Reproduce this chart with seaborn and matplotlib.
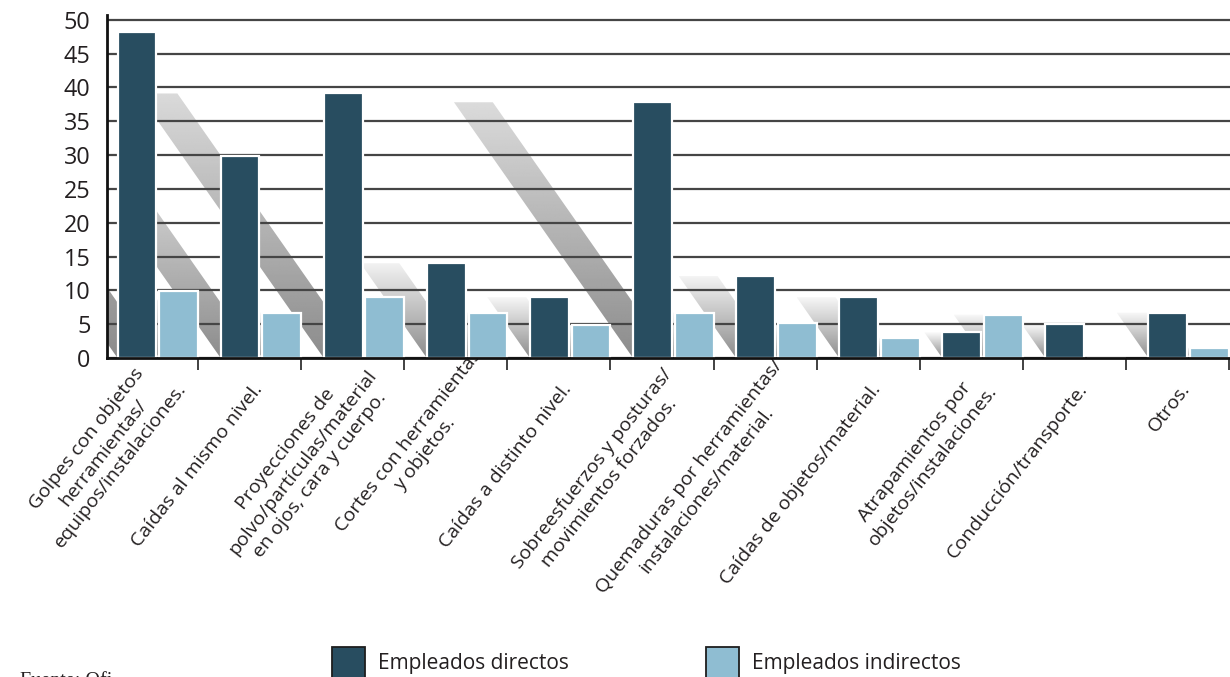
import numpy as np
import pandas as pd
import matplotlib
matplotlib.use("Agg")
import matplotlib.pyplot as plt
import seaborn as sns
from matplotlib.patches import Polygon, Rectangle, PathPatch
from matplotlib.path import Path
from matplotlib.ticker import FixedLocator
from matplotlib.transforms import ScaledTranslation, Bbox

# --- data -------------------------------------------------------------
categorias = [
    "Golpes con objetos\nherramientas/\nequipos/instalaciones.",
    "Caídas al mismo nivel.",
    "Proyecciones de\npolvo/partículas/material\nen ojos, cara y cuerpo.",
    "Cortes con herramientas\ny objetos.",
    "Caídas a distinto nivel.",
    "Sobreesfuerzos y posturas/\nmovimientos forzados.",
    "Quemaduras por herramientas/\ninstalaciones/material.",
    "Caídas de objetos/material.",
    "Atrapamientos por\nobjetos/instalaciones.",
    "Conducción/transporte.",
    "Otros.",
]
directos = [48.2, 29.9, 39.1, 14.0, 9.0, 37.8, 12.1, 9.0, 3.8, 5.0, 6.7]
indirectos = [9.9, 6.7, 9.0, 6.7, 4.9, 6.7, 5.1, 3.0, 6.4, 0.0, 1.5]
series = ["Empleados directos", "Empleados indirectos"]
colores = ["#284d60", "#8fbdd2"]
yticks = [0, 5, 10, 15, 20, 25, 30, 35, 40, 45, 50]
fuente = "Fuente: Ofi"

df = pd.DataFrame({
    "categoria": categorias * 2,
    "valor": directos + indirectos,
    "serie": [series[0]] * len(categorias) + [series[1]] * len(categorias),
})

# --- style ------------------------------------------------------------
sns.set_style("white")
plt.rcParams["font.family"] = ["Open Sans", "DejaVu Sans"]
TXT = "#231f20"
ROT = 52

W, H = 1230, 677
fig = plt.figure(figsize=(W / 100, H / 100), dpi=100)
ax = fig.add_axes([107 / W, (H - 358) / H, (W - 107) / W, (358 - 15) / H])

sns.barplot(
    data=df, x="categoria", y="valor", hue="serie", order=categorias,
    hue_order=series, palette=colores, saturation=1, width=0.81, gap=0.07,
    edgecolor="white", linewidth=1.6, legend=False, zorder=3, ax=ax,
)

XLIM = (-0.493, 10.40)
YLIM = (0, 50.7)
ax.set_xlim(*XLIM)
ax.set_ylim(*YLIM)
ax.set_yticks(yticks)
ax.set_xlabel("")
ax.set_ylabel("")

# grid sits above the cast shadows but behind the bars
ax.set_axisbelow("line")
ax.yaxis.grid(True, color="#454545", linewidth=1.6)
ax.xaxis.grid(False)

for s in ("top", "right"):
    ax.spines[s].set_visible(False)
for s in ("left", "bottom"):
    ax.spines[s].set_color("#111111")
    ax.spines[s].set_linewidth(2.0)
    ax.spines[s].set_zorder(4)

# --- diagonal cast shadows behind each bar ------------------------------
fig.canvas.draw()
px_x = ax.transData.transform((1, 0))[0] - ax.transData.transform((0, 0))[0]
px_y = ax.transData.transform((0, 1))[1] - ax.transData.transform((0, 0))[1]
shear = 0.70 * px_y / px_x  # horizontal data shift per unit of height

bars = sorted(ax.patches, key=lambda p: p.get_x())
first_left = bars[0].get_x()
for k, bar in enumerate(bars):
    h = bar.get_height()
    if h <= 0:
        continue
    x0, w = bar.get_x(), bar.get_width()
    dx = shear * h
    verts = [(x0, 0), (x0 + w, 0), (x0 + w - dx, h), (x0 - dx, h), (x0, 0)]
    path = Path(verts, closed=True)
    if k > 0:
        # later shadows stop at the first bar's left edge
        path = path.clip_to_bbox(Bbox([[first_left, -1], [100, 100]]))
    clip = PathPatch(path, facecolor="none", edgecolor="none",
                     transform=ax.transData)
    ax.add_patch(clip)
    top = 1.0 - 0.15 * min(h, 40) / 40
    grad = np.linspace(0.55, top, 200).reshape(-1, 1)
    im = ax.imshow(grad, cmap="gray", vmin=0, vmax=1, origin="lower",
                   extent=[x0 - dx, x0 + w, 0, h], aspect="auto",
                   interpolation="bilinear", zorder=1)
    im.set_clip_path(clip)

ax.set_xlim(*XLIM)
ax.set_ylim(*YLIM)

# --- ticks --------------------------------------------------------------
ax.tick_params(axis="y", length=0, pad=12, labelsize=16.8, labelcolor=TXT)
ax.xaxis.set_minor_locator(FixedLocator([i + 0.39 for i in range(len(categorias))]))
ax.tick_params(axis="x", which="minor", length=8.5, width=1.3, color="#333333",
               direction="out", bottom=True)
ax.tick_params(axis="x", which="major", length=0, pad=20, labelsize=14,
               labelcolor=TXT)
ax.set_xticks(range(len(categorias)))
ax.set_xticklabels(categorias, rotation=ROT, ha="right", va="center",
                   rotation_mode="anchor", multialignment="center",
                   linespacing=1.25)

# place each wrapped label so the mean end of its lines sits under the bars
fig.canvas.draw()
renderer = fig.canvas.get_renderer()
u = np.array([np.cos(np.radians(ROT)), np.sin(np.radians(ROT))])
for lab in ax.get_xticklabels():
    lines = lab.get_text().split("\n")
    widths = []
    for ln in lines:
        t = fig.text(0, 0, ln, fontproperties=lab.get_fontproperties())
        widths.append(t.get_window_extent(renderer).width)
        t.remove()
    d = (max(widths) - np.mean(widths)) / 2
    off = d * u + np.array([-2.0, 0.0])
    lab.set_transform(lab.get_transform() +
                      ScaledTranslation(off[0] / 100, off[1] / 100, fig.dpi_scale_trans))

# --- legend (squares run past the lower edge) ---------------------------
leg_fs = 15
for c, lab, xs in zip(colores, series, (332, 706)):
    fig.add_artist(Rectangle((xs / W, (H - 692) / H), 33 / W, 45 / H,
                             transform=fig.transFigure, facecolor=c,
                             edgecolor="#1e1e1e", linewidth=1.3))
    fig.text((xs + 46) / W, (H - 669) / H, lab, fontsize=leg_fs, color=TXT,
             ha="left", va="baseline")

fig.text(20 / W, (H - 672) / H, fuente, family="Liberation Serif", fontsize=14.5,
         color=TXT, va="top", ha="left")

fig.savefig("out.png", dpi=100)
